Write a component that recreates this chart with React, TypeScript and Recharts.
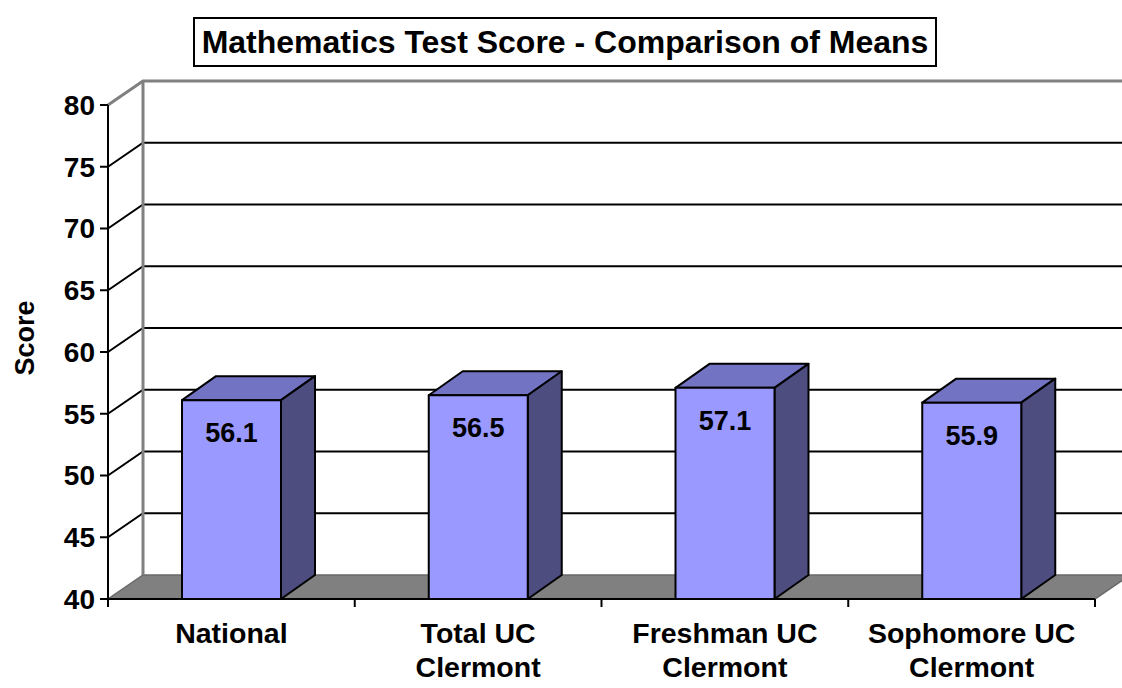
import { BarChart, Bar, XAxis, YAxis, CartesianGrid, LabelList } from 'recharts';

const categories = ['National', 'Total UC\nClermont', 'Freshman UC\nClermont', 'Sophomore UC\nClermont'];
const scores = [56.1, 56.5, 57.1, 55.9];
const yTicks = [40, 45, 50, 55, 60, 65, 70, 75, 80];

const data = categories.map((name, i) => ({ name, score: scores[i] }));

const FONT = '"Liberation Sans", Arial, sans-serif';
// depth of the fake 3d walls / boxes
const DX = 35;
const DY = 24;

function Box3D(props: any) {
  const { x, y, width, height } = props;
  const r = x + width;
  const b = y + height;
  const d = 34;
  return (
    <g stroke="#000" strokeWidth={2} strokeLinejoin="round">
      <polygon points={`${x},${y} ${r},${y} ${r + d},${y - DY} ${x + d},${y - DY}`} fill="#7373c4" />
      <polygon points={`${r},${y} ${r + d},${y - DY} ${r + d},${b - DY} ${r},${b}`} fill="#4d4d80" />
      <rect x={x} y={y} width={width} height={height} fill="#9999ff" />
    </g>
  );
}

function WallLine(props: any) {
  const { x1, y1, x2, y, height } = props;
  const bottom = y + height;
  if (Math.abs(y1 - bottom) < 0.5) {
    return (
      <polygon
        points={`${x1},${y1} ${x2},${y1} ${x2 + DX},${y1 - DY} ${x1 + DX},${y1 - DY}`}
        fill="#808080"
        stroke="#6a6a6a"
        strokeWidth={1.5}
      />
    );
  }
  const top = Math.abs(y1 - y) < 0.5;
  const c = top ? '#808080' : '#000';
  return (
    <g>
      {top && (
        <line x1={x1 + DX} y1={y1 - DY} x2={x1 + DX} y2={bottom - DY} stroke="#808080" strokeWidth={3} />
      )}
      <polyline
        points={`${x1},${y1} ${x1 + DX},${y1 - DY} ${x2 + DX},${y1 - DY}`}
        fill="none"
        stroke={c}
        strokeWidth={top ? 3 : 2}
      />
    </g>
  );
}

function CategoryTick(props: any) {
  const { x, y, payload, index, visibleTicksCount } = props;
  const half = payload.offset ?? 0;
  const lines = String(payload.value).split('\n');
  return (
    <g>
      <line x1={x - half} y1={y - 8} x2={x - half} y2={y} stroke="#000" strokeWidth={2} />
      {index === visibleTicksCount - 1 && (
        <line x1={x + half} y1={y - 8} x2={x + half} y2={y} stroke="#000" strokeWidth={2} />
      )}
      <text x={x} y={y + 36} textAnchor="middle" fontFamily={FONT} fontSize={28.5} fontWeight="bold" fill="#000">
        {lines.map((l, i) => (
          <tspan key={i} x={x} dy={i === 0 ? 0 : 34}>
            {l}
          </tspan>
        ))}
      </text>
    </g>
  );
}

function ValueLabel(props: any) {
  const { x, y, width, value } = props;
  return (
    <text x={x + width / 2} y={y + 42} textAnchor="middle" fontFamily={FONT} fontSize={27} fontWeight="bold" fill="#000">
      {value}
    </text>
  );
}

export default function App() {
  return (
    <div style={{ position: 'absolute', left: 0, top: 0, width: 1122, height: 688, background: '#fff' }}>
      <div
        style={{
          position: 'absolute',
          left: 193,
          top: 17,
          width: 744,
          height: 50,
          boxSizing: 'border-box',
          border: '2px solid #000',
          fontFamily: FONT,
          fontWeight: 'bold',
          fontSize: 32,
          lineHeight: '46px',
          textAlign: 'center',
          whiteSpace: 'nowrap',
        }}
      >
        Mathematics Test Score - Comparison of Means
      </div>
      <BarChart width={1122} height={688} data={data} margin={{ top: 105, right: 27, bottom: 0, left: 0 }}>
        <CartesianGrid vertical={false} horizontal={(p: any) => <WallLine key={p.key} {...p} />} />
        <XAxis
          dataKey="name"
          height={89}
          interval={0}
          tickLine={false}
          tickSize={8}
          tickMargin={0}
          axisLine={{ stroke: '#000', strokeWidth: 2 }}
          tick={<CategoryTick />}
        />
        <YAxis
          width={108}
          domain={[40, 80]}
          ticks={yTicks}
          interval={0}
          tickSize={8}
          tickMargin={5}
          axisLine={{ stroke: '#000', strokeWidth: 2 }}
          tickLine={{ stroke: '#000', strokeWidth: 2 }}
          tick={{ fill: '#000', fontSize: 28, fontWeight: 'bold', fontFamily: FONT }}
          label={{
            content: () => (
              <text
                x={25}
                y={338}
                transform="rotate(-90 25 338)"
                textAnchor="middle"
                dominantBaseline="central"
                fontFamily={FONT}
                fontSize={27}
                fontWeight="bold"
                fill="#000"
              >
                Score
              </text>
            ),
          }}
        />
        <Bar dataKey="score" barSize={99} shape={<Box3D />} isAnimationActive={false}>
          <LabelList dataKey="score" content={<ValueLabel />} />
        </Bar>
      </BarChart>
    </div>
  );
}
